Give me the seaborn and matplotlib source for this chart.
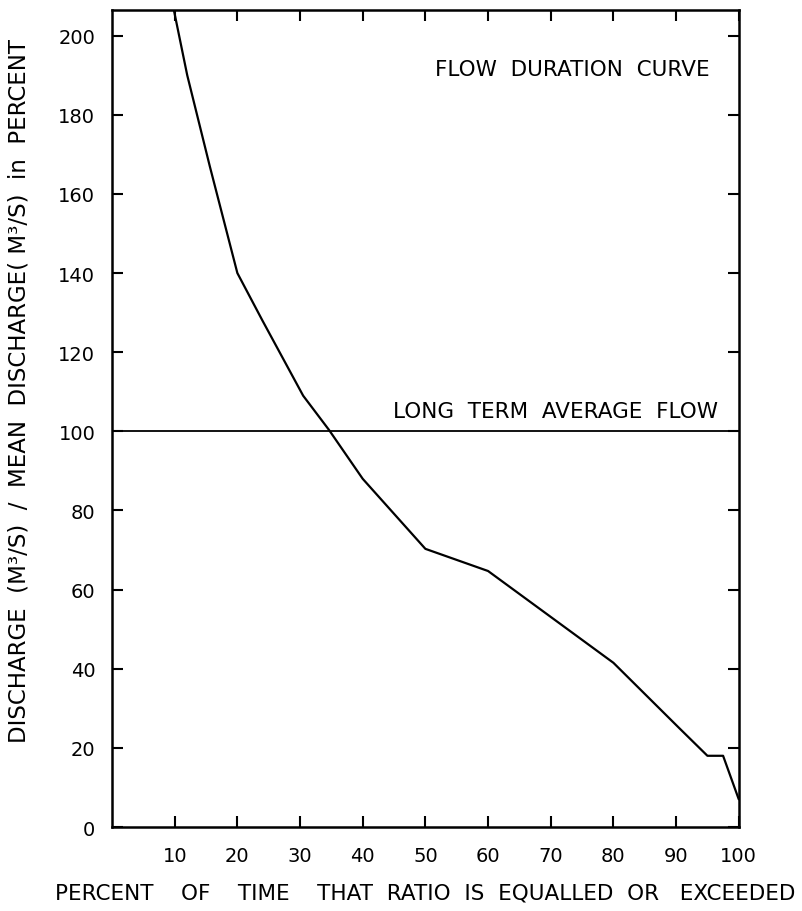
import matplotlib
matplotlib.use("Agg")
import matplotlib.pyplot as plt
import seaborn as sns
import pandas as pd

# Flow duration curve: percent of time exceeded vs. discharge ratio (%)
percent_time = [9.8, 12, 15.6, 20, 24, 30.5, 34.6, 40, 50, 60, 80, 90.5, 95, 97.5, 100]
discharge_ratio = [207, 190, 167, 140, 128, 109, 100.4, 88, 70.3, 64.7, 41.5, 25, 18, 18, 7]

long_term_average = 100

x_ticks = [10, 20, 30, 40, 50, 60, 70, 80, 90, 100]
y_ticks = [0, 20, 40, 60, 80, 100, 120, 140, 160, 180, 200]

sns.set_style("ticks")
plt.rcParams["font.family"] = ["DejaVu Sans"]
plt.rcParams["text.color"] = "black"
plt.rcParams["axes.labelcolor"] = "black"

df = pd.DataFrame({"time": percent_time, "ratio": discharge_ratio})

fig = plt.figure(figsize=(8.03, 9.12), dpi=100)
ax = fig.add_axes([0.1395, 0.0921, 0.7805, 0.8959])

sns.lineplot(data=df, x="time", y="ratio", ax=ax, color="black",
             linewidth=1.6, sort=False, estimator=None)
ax.axhline(long_term_average, color="black", linewidth=1.3)

ax.set_xlim(0, 100)
ax.set_ylim(0, 206.5)
ax.set_xticks(x_ticks)
ax.set_yticks(y_ticks)
ax.set_xticklabels([str(v) for v in x_ticks])
ax.set_yticklabels([str(v) for v in y_ticks])
ax.tick_params(axis="both", direction="in", length=8, width=1.5,
               top=True, right=True, colors="black", labelsize=14)
ax.tick_params(axis="x", pad=14)
ax.tick_params(axis="y", pad=12)
for s in ax.spines.values():
    s.set_linewidth(1.8)
    s.set_color("black")

ax.set_xlabel("PERCENT    OF    TIME    THAT  RATIO  IS  EQUALLED  OR   EXCEEDED",
              fontsize=15.5, labelpad=12)
ax.set_ylabel("DISCHARGE  (M³/S)  /  MEAN  DISCHARGE( M³/S)  in  PERCENT",
              fontsize=16.5)
ax.yaxis.set_label_coords(-0.13, 0.535)

ax.text(73.4, 191.5, "FLOW  DURATION  CURVE", fontsize=15.5,
        ha="center", va="center")
ax.text(70.8, 102.5, "LONG  TERM  AVERAGE  FLOW", fontsize=15.5,
        ha="center", va="bottom")

fig.savefig("out.png", dpi=100)
